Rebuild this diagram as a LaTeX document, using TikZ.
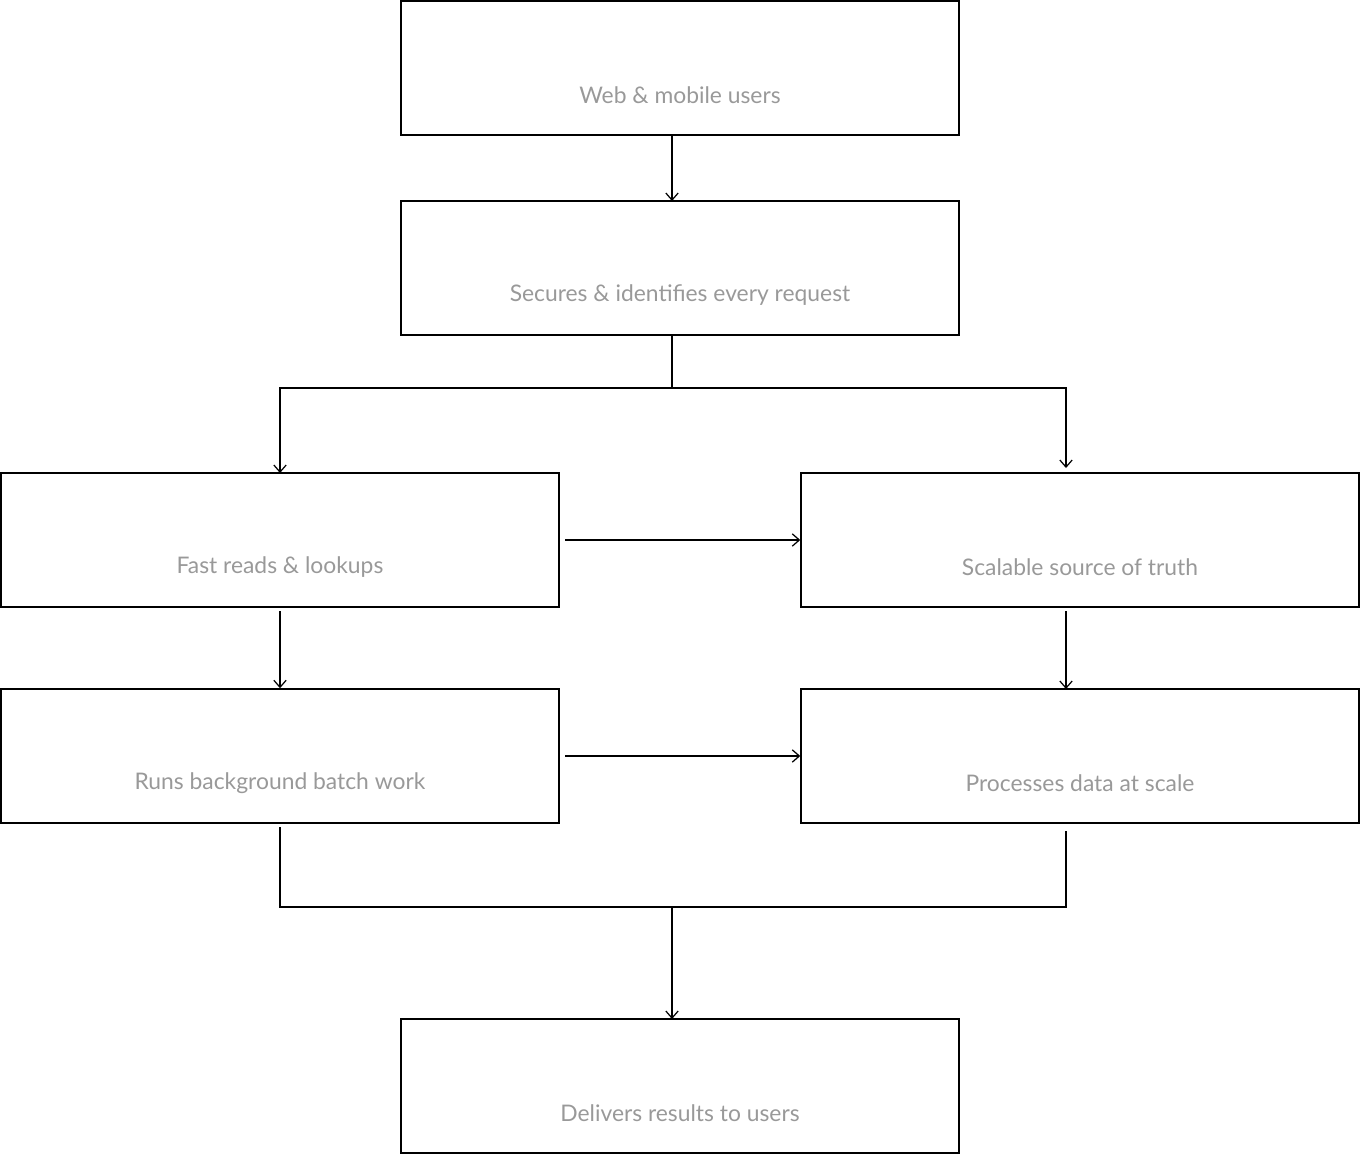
\documentclass[tikz,border=0pt]{standalone}
\usepackage{fontspec}
\setmainfont{Lato}
\usetikzlibrary{positioning}
\usetikzlibrary{arrows.meta}

\tikzset{
	box/.style={draw, line width=0.9pt, minimum width=11.16cm, minimum height=2.68cm, inner sep=0pt},
	lbl/.style={text=black!40, font=\fontsize{13}{15}\selectfont},
	flow/.style={line width=0.7pt, -{Straight Barb[length=4pt,width=7pt]}}
}

\begin{document}
\begin{tikzpicture}[x=0.02cm, y=-0.02cm]
	\useasboundingbox (0,0) rectangle (1360,1154);

	\node[box] (users) at (680,68) {};
	\node[box] (gate) at (680,268) {};

	\node[box] (cache) at (280,540) {};
	\node[box] (db) at (1080,540) {};

	\node[box] (batch) at (280,756) {};
	\node[box] (proc) at (1080,756) {};

	\node[box] (out) at (680,1086) {};

	\node[lbl] (tusers) at (680,95) {Web \& mobile users};
	\node[lbl] (tgate) at (680,295) {Secures \& identifies every request};
	\node[lbl] (tcache) at (280,567) {Fast reads \& lookups};
	\node[lbl] (tdb) at (1080,567) {Scalable source of truth};
	\node[lbl] (tbatch) at (280,783) {Runs background batch work};
	\node[lbl] (tproc) at (1080,783) {Processes data at scale};
	\node[lbl] (tout) at (680,1113) {Delivers results to users};

	\coordinate (split) at (672,388);
	\coordinate (join) at (672,907);

	\draw[flow] (672,135) -- (672,201);
	\draw[line width=0.7pt] (672,335) -- (split);
	\draw[flow] (split) -| (280,473);
	\draw[flow] (split) -| (1066,468);

	\draw[flow] (565,540) -- (db.west);
	\draw[flow] (565,756) -- (proc.west);
	\draw[flow] (280,611) -- (batch.north -| 280,0);
	\draw[flow] (1066,611) -- (1066,689);

	\draw[line width=0.7pt] (280,827) |- (join) -| (1066,831);
	\draw[flow] (join) -- (672,1019);
\end{tikzpicture}
\end{document}
